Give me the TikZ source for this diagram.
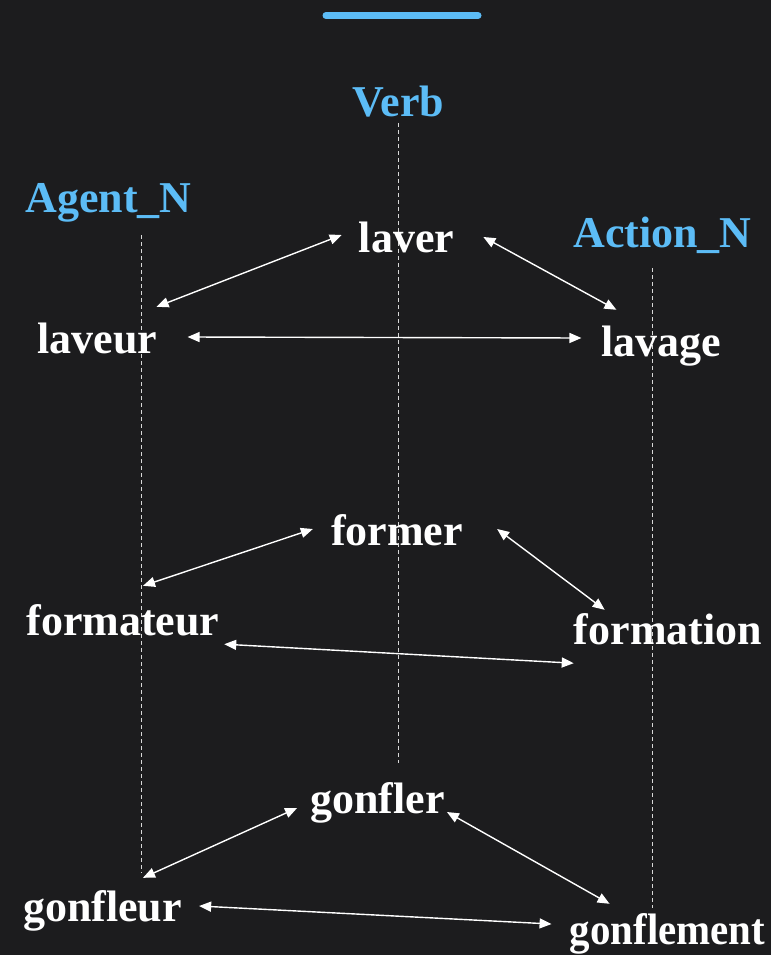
\documentclass[tikz,border=0pt]{standalone}
\usepackage{fontspec}
\setmainfont{Liberation Serif}[Ligatures=CommonOff]
\usetikzlibrary{arrows.meta}
\definecolor{bg}{HTML}{1C1C1E}
\definecolor{headblue}{HTML}{5CBCF6}
\definecolor{guidegray}{HTML}{D8D8D8}

\begin{document}
\begin{tikzpicture}[x=1pt, y=-1pt,
    word/.style={text=white, font=\fontsize{44}{50}\selectfont\bfseries, inner sep=0pt, text height=31pt, text depth=10pt, anchor=base},
    head/.style={text=headblue, font=\fontsize{44}{50}\selectfont\bfseries, inner sep=0pt, anchor=base},
    guide/.style={draw=guidegray, line width=0.8pt, dash pattern=on 4pt off 3pt},
    link/.style={white, line width=1.4pt, {Triangle[length=12pt,width=10pt]}-{Triangle[length=12pt,width=10pt]}}]
    \fill[bg] (0,0) rectangle (771,955);
    \useasboundingbox (0,0) rectangle (771,955);
    \draw[headblue, line width=7pt, line cap=round] (326,15.5) -- (478,15.5);

    \node[head] (verb head) at (398.5,117) {Verb};
    \node[head] (agent head) at (108.5,212) {Agent\_N};
    \node[head] (action head) at (662.5,247) {Action\_N};

    \coordinate (verb top) at (398,123);
    \coordinate (verb bottom) at (398,763);
    \coordinate (agent top) at (141,235);
    \coordinate (agent bottom) at (141,873);
    \coordinate (action top) at (652,268);
    \coordinate (action bottom) at (652,908);
    \draw[guide] (verb top) -- (verb bottom);
    \draw[guide] (agent top) -- (agent bottom);
    \draw[guide] (action top) -- (action bottom);

    \node[word] (laver) at (406.5,252) {laver};
    \node[word] (laveur) at (97.5,353) {laveur};
    \node[word] (lavage) at (661.5,356) {lavage};
    \node[word] (former) at (397,545) {former};
    \node[word] (formateur) at (123,635) {formateur};
    \node[word] (formation) at (668,644) {formation};
    \node[word] (gonfler) at (377.5,813) {gonfler};
    \node[word] (gonfleur) at (102.5,921) {gonfleur};
    \node[word] (gonflement) at (667.5,944) {\scalebox{0.93}[1]{gonflement}};

    \draw[link] ([shift={(-17,-6.5)}]laver.west) -- ([shift={(-1,-15)}]laveur.north east);
    \draw[link] ([shift={(29,-4.5)}]laver.east) -- ([shift={(15,-15)}]lavage.north west);
    \draw[link] ([shift={(30,-5.5)}]laveur.east) -- ([shift={(-20,-7.5)}]lavage.west);

    \draw[link] ([shift={(-18,-5.5)}]former.west) -- ([shift={(20,-18)}]formateur.north);
    \draw[link] ([shift={(34,-5.5)}]former.east) -- ([shift={(31,-3)}]formation.north west);
    \draw[link] ([shift={(4.5,-1)}]formateur.south east) -- ([shift={(0,9)}]formation.south west);

    \draw[link] ([shift={(-13,5.5)}]gonfler.west) -- ([shift={(40.5,-12)}]gonfleur.north);
    \draw[link] ([shift={(2,9.5)}]gonfler.east) -- ([shift={(40,-9)}]gonflement.north west);
    \draw[link] ([shift={(17,-4.5)}]gonfleur.east) -- ([shift={(-18,-9.5)}]gonflement.west);
\end{tikzpicture}
\end{document}
